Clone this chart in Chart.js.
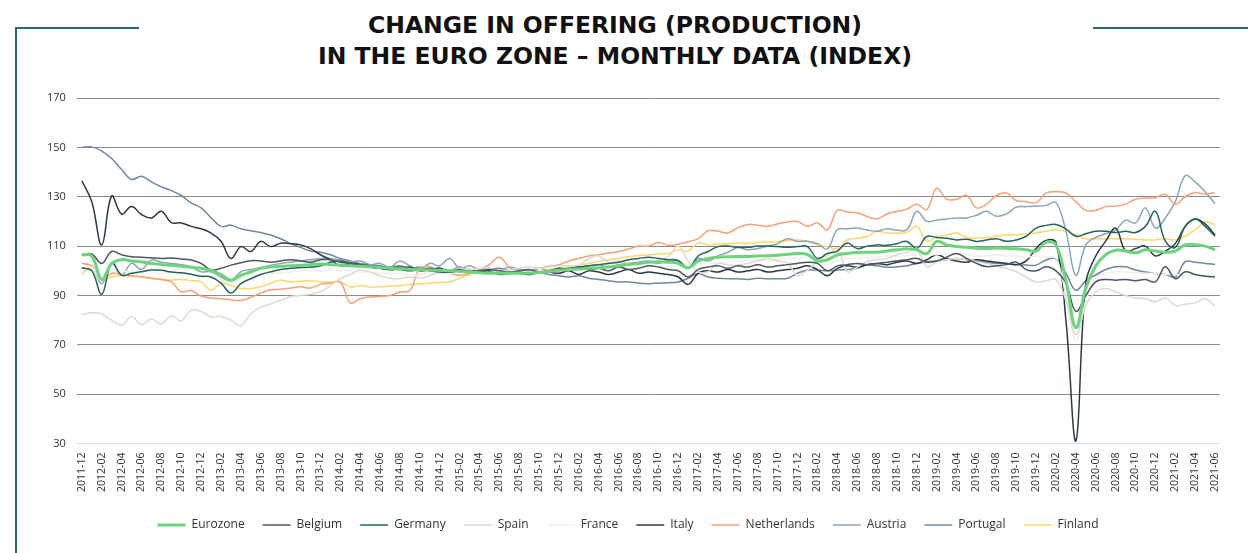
<!DOCTYPE html>
<html>
<head>
<meta charset="utf-8">
<script src="https://cdn.jsdelivr.net/npm/chart.js@4.4.1/dist/chart.umd.min.js"></script>
<style>
  html, body { margin: 0; padding: 0; background: #fff; }
  body { width: 1248px; height: 553px; position: relative; overflow: hidden; }
  #title {
    position: absolute; left: 0; top: 10px; width: 1230px; text-align: center;
    font-family: 'DejaVu Sans', sans-serif; font-weight: 700; font-size: 23.5px;
    line-height: 31px; color: #111;
  }
  .frame { position: absolute; background: #2b6b62; }
  #chartWrap { position: absolute; left: 0; top: 0; width: 1248px; height: 553px; }
</style>
</head>
<body>
<div class="frame" style="left:15px; top:27px; width:124px; height:1.5px;"></div>
<div class="frame" style="left:15px; top:27px; width:1.5px; height:526px;"></div>
<div class="frame" style="left:1093px; top:27px; width:155px; height:1.5px;"></div>
<div id="title">CHANGE IN OFFERING (PRODUCTION)<br>IN THE EURO ZONE – MONTHLY DATA (INDEX)</div>
<div id="chartWrap"><canvas id="prodChart"></canvas></div>
<script>
  // months 2011-12 .. 2021-06
  const months = ['2011-12'];
  for (let y = 2012; y <= 2021; y++) {
    for (let m = 1; m <= 12; m++) {
      if (y === 2021 && m > 6) break;
      months.push(y + '-' + (m < 10 ? '0' + m : m));
    }
  }

  const yTicks = [30, 50, 70, 90, 110, 130, 150, 170];

  const eurozone = [106.5,
    106, 96.5, 103, 104.5, 104, 103.6, 103, 102.5, 102.2, 101.8, 101.4, 101,
    100, 98.5, 96.2, 98.2, 99.5, 101, 101.5, 101.8, 102, 102.2, 102.5, 102.8,
    102.5, 102.3, 102, 101.8, 101.6, 101.3, 101, 100.8, 100.6, 100.4, 100.3, 100.2,
    100, 99.8, 99.6, 99.2, 99, 99, 99, 99, 99, 99.3, 99.7, 100.2,
    100.5, 100.7, 101, 101.2, 101.5, 102, 102.5, 103, 103.5, 103.7, 103.5, 103,
    101.2, 104, 105, 105.5, 105.7, 105.8, 105.8, 106, 106.1, 106.3, 106.7, 107,
    106.6, 104, 104.5, 106.4, 107, 107.4, 107.5, 107.5, 108, 108.5, 108.9, 108.5,
    107, 111.9, 110.5, 109.8, 109.5, 109.1, 109, 109.2, 109.1, 108.9, 108.5, 108,
    111.6, 110.5, 96, 77, 93, 102, 106.5, 108.3, 108, 107.3, 108.5, 108,
    107.5, 108, 110.5, 110.6, 110, 108.5];

  const belgium = [106.4,
    106.8, 103, 107.8, 106.5, 105.7, 105.5, 105.3, 105, 105.2, 104.8, 104.4, 103,
    100.3, 101, 102.3, 103.3, 104.1, 104, 103.5, 104, 104.5, 104, 103.5, 104.5,
    104.5, 103.5, 103, 102.5, 102, 101.5, 101, 101.5, 101, 100.5, 101, 100.5,
    100, 100.5, 99.5, 100, 100.5, 100, 99.5, 100, 100.5, 99.5, 100, 101,
    100.5, 101.5, 100.5, 101, 100, 101.5, 100.5, 101, 102, 101.5, 100.5, 100,
    97.5, 100.5, 101.5, 102, 101, 102, 101.5, 102.5, 101.5, 102, 102.5, 103,
    103.5, 103, 100, 102, 102.5, 103, 102.5, 103, 103.5, 104, 104.5, 105,
    103.5, 104, 105.5, 107, 105, 103, 101.7, 102, 102.5, 103.5, 100.5, 100,
    101.6, 100, 95, 83.6, 90, 95.5, 96.5, 96.2, 96.5, 96, 96.5, 95.5,
    101.6, 96.8, 99.6, 98.5, 97.8, 97.5];

  const germany = [101.2,
    100, 90.5, 103.3, 98.2, 99, 99.6, 100.3, 100.2, 99.5, 99.2, 98.6, 97.8,
    97.5, 95, 91, 94.8, 96.8, 98.5, 99.6, 100.5, 101, 101.3, 101.5, 102,
    103.5, 104, 103, 102, 101.5, 101, 100.5, 100.5, 100, 100.5, 100, 99.5,
    99.5, 100, 99.5, 99, 99.5, 98.5, 99, 99, 98.5, 99.5, 100, 100.5,
    101, 101.5, 102, 102.5, 103, 103.5, 104.5, 105, 105.5, 105, 104.5, 104,
    101, 106, 107.8, 109.8, 110, 109.5, 109.5, 110, 110, 109.8, 109.5, 109.8,
    109.8, 105, 107, 108, 111.3, 109, 110, 110.5, 110.3, 111, 111.9, 109.1,
    113.9, 113.5, 113.2, 112.5, 112.8, 111.9, 112.5, 113, 112, 112.5, 114, 117.3,
    118.4, 118.8, 117, 114, 115, 116, 116, 115.5, 116, 115.5, 118, 124.1,
    112, 109.5, 118, 121, 118, 114];

  const spain = [82.3,
    83, 82.5, 80, 78, 81.5, 78.2, 80.5, 78.5, 81.8, 79.8, 84, 83.5,
    81.4, 81.5, 80, 77.8, 82.6, 85.3, 86.6, 88, 89.5, 90, 90.5, 91.5,
    94, 96.8, 98.5, 100.3, 99.5, 98, 97, 96.8, 97.5, 97, 98, 99.5,
    100, 101, 100.5, 101, 101, 100, 100.5, 101, 101.5, 101, 101.5, 102,
    102, 102.3, 105, 106, 103.5, 104, 103, 102.5, 103.5, 104, 105.7, 110,
    104, 99.6, 99.6, 103, 102.3, 102.3, 103, 104, 105, 104, 103, 98.2,
    100.3, 103.7, 106, 109.1, 99.6, 101.5, 103.7, 104.5, 105, 106.5, 107.5, 108.5,
    101.6, 103.7, 104.5, 105, 104.5, 103.7, 103, 102, 101, 99.6, 97.5, 95.5,
    96, 96.5, 88, 74.3, 86, 91.4, 92.8, 91.5, 90, 89, 88.7, 87.5,
    89, 86, 86.5, 87, 88.7, 85.7];

  const france = [101,
    101.5, 96, 100.5, 100, 99.5, 100, 99.5, 99, 99.5, 99, 98.5, 98,
    97.5, 96.5, 95, 97, 98, 98.5, 99, 99, 99.5, 100, 100, 100,
    100.5, 100, 100, 99.5, 99.5, 99, 99, 99, 98.5, 98.5, 99, 99,
    99, 99.5, 99.5, 99, 99.5, 99.5, 100, 100, 99.5, 100, 100, 100.5,
    100.5, 101, 100.5, 101, 101.5, 101.5, 101, 101.5, 102, 102, 101.5, 102,
    101, 102.5, 103, 103, 103.5, 104, 104, 104.5, 104, 104.5, 105, 105,
    105.5, 104, 102.5, 104, 105, 105, 105.5, 105.5, 106, 106, 106, 106.5,
    106.5, 106.5, 107, 106.5, 106.5, 106, 106, 106.5, 106, 106, 105.5, 106,
    105.5, 105, 90, 72, 88, 97, 99, 99.6, 99.5, 99.2, 99, 99,
    98.5, 98.5, 98.2, 98.5, 98.2, 98.2];

  const italy = [136.5,
    128, 110.5, 130.3, 123, 126, 122.8, 121.4, 124.1, 119.5, 119.4, 118, 117,
    115.3, 112, 105, 109.8, 107.8, 111.9, 109.8, 111.2, 111, 110.5, 109, 106.5,
    104.5, 102, 103, 102.5, 101.5, 101, 100.5, 101, 101.5, 100, 100.5, 101,
    99.5, 100, 100.5, 99.5, 100, 99, 100.5, 99.8, 98.5, 100, 99.5, 99,
    100, 98.5, 100, 99.5, 98.5, 99.5, 100.5, 99, 99.5, 99, 98.5, 97.5,
    94.5, 99, 100, 99.5, 100.5, 99.5, 100, 100.5, 99.5, 100, 100.5, 101,
    102, 100.5, 98, 101, 102, 101.5, 102.5, 103, 102.5, 103.5, 104, 103,
    104.5, 106.5, 105, 104, 103.5, 104.5, 104, 103.5, 103, 102.5, 104, 109,
    112.3, 111.5, 80, 31, 95, 106, 112, 117.3, 108, 109, 110, 106,
    108, 111, 118, 121, 119, 114.5];

  const netherlands = [103,
    102, 96, 99, 98.5, 98, 97.5, 97, 96.5, 95.5, 91.5, 92, 89.8,
    89, 88.7, 88.3, 88, 89.2, 91, 92.3, 92.5, 93, 93.5, 93, 94.5,
    95, 95.5, 87, 88.7, 89.4, 89.6, 90, 91.4, 92, 101, 101.6, 99.6,
    99, 98.2, 99, 100.5, 102.5, 105.5, 101.5, 99.2, 99.6, 101, 101.8, 102.5,
    104, 105, 106, 106.5, 107.2, 107.8, 108.8, 110, 110, 111.5, 110.3, 110.8,
    111.8, 113, 116.2, 116, 115.3, 117.5, 118.8, 118.5, 118, 119, 119.8, 120,
    118, 119.4, 116.6, 124.5, 123.8, 123.5, 122, 121, 123, 124, 125, 127,
    124.8, 133.5, 129, 129, 130.5, 125.5, 127, 130.5, 131.5, 128.5, 128, 127.6,
    131.5, 132, 131.5, 128, 124.5, 124.5, 126, 126.2, 127, 129, 129.5, 129.6,
    131, 127, 130, 131.7, 131, 131.7];

  const austria = [103,
    102, 94.8, 103, 98.2, 103, 100.5, 104.4, 103.5, 103, 102.5, 101.5, 99.6,
    99.6, 97.5, 96, 99.6, 100.5, 101.3, 102.3, 103, 103.5, 104, 104.5, 105,
    105, 104.5, 103.5, 104, 102.5, 103, 101.5, 104, 102, 100.5, 103, 102,
    105, 101, 102, 100.5, 101, 100, 101.5, 100.5, 100, 101, 100, 101,
    100.5, 101.5, 102, 102.5, 101.5, 102.5, 103, 103.5, 104, 103, 104.5, 104.4,
    101, 105, 104, 106, 107.5, 109.4, 108.5, 109, 110, 111, 113, 111.9,
    112, 111, 108.9, 116.6, 117, 117.3, 116.5, 116, 117, 116.5, 116.6, 124.1,
    120, 120.5, 121, 121.4, 121.4, 122.5, 124.1, 122.1, 123, 125.8, 126, 126.2,
    126.5, 127.6, 116, 98.2, 110.5, 113.5, 115, 116.5, 120.5, 119.4, 125.5, 117.3,
    121.4, 128, 138.5, 136, 132, 127.2];

  const portugal = [150,
    150.2, 148.5, 145.5, 141, 137, 138.3, 136, 134, 132.5, 130.5, 127.5, 125.5,
    121.5, 118, 118.5, 117, 116.2, 115.5, 114.5, 113, 111, 109.5, 108, 107.5,
    106.5, 105, 104, 103, 102.5, 102, 101.5, 102, 101, 101.5, 100.5, 101,
    100, 101.5, 100, 99.5, 100.5, 101, 100, 99.5, 100, 99.5, 98.5, 98,
    97.5, 98, 97, 96.5, 96, 95.5, 95.5, 95, 94.8, 95, 95.2, 95.5,
    97, 98.9, 97.5, 97, 96.8, 96.8, 96.5, 97, 96.8, 96.8, 97, 99,
    100.3, 100.3, 100, 100.3, 100.5, 101, 102.3, 102, 101.5, 101.6, 102, 103,
    103.7, 104, 104.5, 105, 104.5, 104, 103.5, 103, 103, 102.5, 102.3, 102.3,
    104.4, 104.9, 99, 92.1, 96, 98.3, 100.5, 101.6, 101.6, 100.3, 99.5, 98.9,
    98.5, 97.5, 103.7, 103.5, 103, 102.6];

  const finland = [98.6,
    101.6, 96.2, 97.5, 98.2, 97.8, 97.5, 96.8, 96.5, 96.2, 96.5, 96, 95.5,
    92.1, 95, 94, 92.8, 92.8, 93.5, 95, 96.2, 95.5, 95.8, 96, 95.5,
    95.5, 95.5, 93.4, 94, 93.4, 93.5, 93.8, 94, 94.5, 94.8, 95, 95.3,
    95.5, 97, 98.5, 99.5, 99.6, 99.7, 99.5, 99.5, 99.6, 100, 100.5, 101,
    101.5, 102.3, 103, 103.8, 104.5, 105, 105.7, 106.2, 106.4, 106.8, 107, 108.5,
    108, 111.3, 110.5, 110.8, 111, 111.3, 111, 111.5, 111.7, 111.9, 112.2, 112.5,
    112, 110.5, 109.8, 108.9, 112.5, 113.2, 113.9, 116, 115.3, 115.3, 115.5, 118,
    111.9, 113.9, 114.5, 115.3, 113.5, 113.2, 113.5, 114, 114.5, 114.5, 115, 115.3,
    116, 116.6, 116, 114.5, 113, 113, 113, 113, 113, 112.8, 112.5, 112.5,
    113, 112.5, 114, 116.6, 119.8, 118.7];

  const FONT = "'Open Sans', sans-serif";

  function series(label, data, color, width) {
    return {
      label: label,
      data: data,
      borderColor: color,
      backgroundColor: color,
      borderWidth: width,
      pointRadius: 0,
      pointHoverRadius: 0,
      tension: 0.4,
      fill: false
    };
  }

  new Chart(document.getElementById('prodChart'), {
    type: 'line',
    data: {
      labels: months,
      datasets: [
        series('Eurozone', eurozone, '#6dd47e', 3),
        series('Belgium', belgium, '#4b5864', 1.5),
        series('Germany', germany, '#25665a', 1.5),
        series('Spain', spain, '#dedad0', 1.5),
        series('France', france, '#efefec', 1.5),
        series('Italy', italy, '#2c3a44', 1.5),
        series('Netherlands', netherlands, '#f7a178', 1.5),
        series('Austria', austria, '#8ea5b9', 1.5),
        series('Portugal', portugal, '#6f88a0', 1.5),
        series('Finland', finland, '#fdd96a', 1.5)
      ]
    },
    options: {
      responsive: true,
      maintainAspectRatio: false,
      animation: false,
      layout: { padding: { left: 36, right: 28, top: 98, bottom: 12 } },
      plugins: {
        title: { display: false },
        tooltip: { enabled: false },
        legend: {
          position: 'bottom',
          labels: {
            usePointStyle: true,
            pointStyle: 'line',
            pointStyleWidth: 28,
            padding: 18,
            color: '#333',
            font: { family: FONT, size: 12 }
          }
        }
      },
      scales: {
        x: {
          offset: true,
          grid: { display: false, drawTicks: false },
          border: { display: false },
          ticks: {
            autoSkip: false,
            maxRotation: 90,
            minRotation: 90,
            padding: 9,
            color: '#333',
            font: { family: FONT, size: 10.5 },
            callback: function (val, idx) {
              return idx % 2 === 0 ? this.getLabelForValue(val) : '';
            }
          }
        },
        y: {
          min: 30,
          max: 170,
          afterBuildTicks: function (axis) {
            axis.ticks = yTicks.map(function (v) { return { value: v }; });
          },
          grid: {
            drawTicks: false,
            lineWidth: 1,
            color: function (ctx) {
              return ctx.tick && ctx.tick.value === 30 ? '#d4e4ec' : '#8a8a8a';
            }
          },
          border: { display: false },
          ticks: {
            padding: 11,
            color: '#333',
            font: { family: FONT, size: 11 }
          }
        }
      }
    }
  });
</script>
</body>
</html>
